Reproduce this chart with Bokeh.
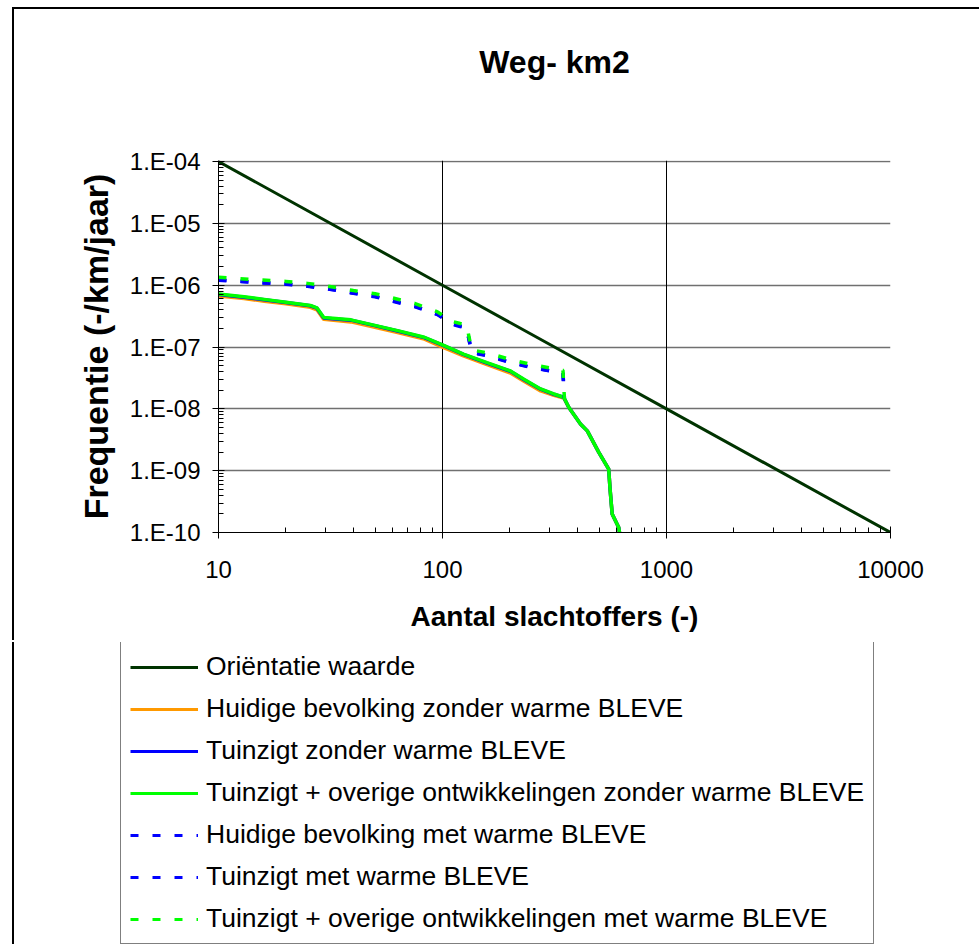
from bokeh.plotting import figure
from bokeh.layouts import column
from bokeh.models import (FixedTicker, CustomJSTickFormatter, Legend, LegendItem, Grid,
                          Title, Range1d)
from bokeh.embed import file_html
from bokeh.resources import INLINE

title_text = "Weg- km2"
x_label = "Aantal slachtoffers (-)"
y_label = "Frequentie (-/km/jaar)"

x_ticks = [10, 100, 1000, 10000]
y_ticks = [1e-10, 1e-9, 1e-8, 1e-7, 1e-6, 1e-5, 1e-4]

# Oriëntatie waarde (orientation value line)
n_orient = [10, 100, 1000, 10000]
f_orient = [1e-4, 1e-6, 1e-8, 1e-10]

# FN curves without warm BLEVE
n_zonder = [10, 13, 16, 20, 25.7, 27.5, 29.5, 39, 51, 63, 83, 100, 124, 158, 201,
            231, 274, 314, 348, 366, 413, 443, 498, 552, 560, 572, 612, 617]
f_huidig_zonder = [6.7e-7, 6.1e-7, 5.5e-7, 5.0e-7, 4.4e-7, 4.0e-7, 2.8e-7, 2.55e-7,
                   2.05e-7, 1.72e-7, 1.34e-7, 1.0e-7, 7.2e-8, 5.2e-8, 3.8e-8, 2.8e-8,
                   1.95e-8, 1.65e-8, 1.5e-8, 1.06e-8, 5.7e-9, 4.4e-9, 2.0e-9, 1.06e-9,
                   5.0e-10, 2.0e-10, 1.2e-10, 1.0e-10]
f_tuinzigt_zonder = [7.1e-7, 6.4e-7, 5.8e-7, 5.25e-7, 4.65e-7, 4.25e-7, 2.95e-7, 2.72e-7,
                     2.18e-7, 1.82e-7, 1.42e-7, 1.07e-7, 7.6e-8, 5.5e-8, 4.05e-8, 2.95e-8,
                     2.08e-8, 1.72e-8, 1.53e-8, 1.06e-8, 5.7e-9, 4.4e-9, 2.0e-9, 1.06e-9,
                     5.0e-10, 2.0e-10, 1.2e-10, 1.0e-10]
f_overig_zonder = [7.2e-7, 6.5e-7, 5.9e-7, 5.3e-7, 4.7e-7, 4.3e-7, 3.0e-7, 2.75e-7,
                   2.2e-7, 1.84e-7, 1.44e-7, 1.08e-7, 7.7e-8, 5.6e-8, 4.1e-8, 3.0e-8,
                   2.1e-8, 1.74e-8, 1.54e-8, 1.06e-8, 5.7e-9, 4.4e-9, 2.0e-9, 1.06e-9,
                   5.0e-10, 2.0e-10, 1.2e-10, 1.0e-10]

# FN curves with warm BLEVE
n_met = [10, 15, 20, 25, 30, 40, 50, 60, 75, 95, 110, 120, 128, 135, 160, 200, 250,
         320, 345, 350]
f_huidig_met = [1.2e-6, 1.1e-6, 1.04e-6, 9.6e-7, 8.8e-7, 7.4e-7, 6.5e-7, 5.5e-7, 4.5e-7,
                3.35e-7, 2.35e-7, 2.15e-7, 2.05e-7, 8.1e-8, 7.2e-8, 5.6e-8, 4.65e-8,
                3.95e-8, 3.75e-8, 1.5e-8]
f_tuinzigt_met = [1.22e-6, 1.11e-6, 1.05e-6, 9.7e-7, 8.9e-7, 7.5e-7, 6.6e-7, 5.6e-7, 4.6e-7,
                  3.4e-7, 2.4e-7, 2.2e-7, 2.1e-7, 8.2e-8, 7.3e-8, 5.7e-8, 4.7e-8,
                  4.0e-8, 3.8e-8, 1.5e-8]
f_overig_met = [1.34e-6, 1.22e-6, 1.15e-6, 1.07e-6, 9.8e-7, 8.2e-7, 7.3e-7, 6.2e-7, 5.1e-7,
                3.7e-7, 2.6e-7, 2.4e-7, 2.3e-7, 9.0e-8, 8.0e-8, 6.3e-8, 5.2e-8,
                4.4e-8, 4.2e-8, 1.5e-8]

series_labels = [
    "Oriëntatie waarde",
    "Huidige bevolking zonder warme BLEVE",
    "Tuinzigt zonder warme BLEVE",
    "Tuinzigt + overige ontwikkelingen zonder warme BLEVE",
    "Huidige bevolking met warme BLEVE",
    "Tuinzigt met warme BLEVE",
    "Tuinzigt + overige ontwikkelingen met warme BLEVE",
]
series_colors = ["#003300", "#FF9900", "#0000FF", "#00FF00", "#0000FF", "#0000FF", "#00FF00"]
series_dash = ["solid", "solid", "solid", "solid", "8 14", "8 14", "8 14"]
series_width = [3, 3.5, 3.5, 3.5, 3.5, 3.5, 3.5]

FONT = "Liberation Sans"
W = 967  # canvas width of both panels (right edge runs past the window)

# ---------------- main chart ----------------
# the y range ends a hair above 1e-4 so the top gridline is not cut by the frame edge
p = figure(width=W, height=633,
           x_axis_type="log", y_axis_type="log",
           x_range=(10, 10000), y_range=(1e-10, 1.04e-4),
           output_backend="svg", toolbar_location=None,
           min_border_left=204, min_border_right=14 + W - 890,
           min_border_top=151, min_border_bottom=110,
           background_fill_color="white", border_fill_color="white")
p.frame_align = False
p.styles = {"box-shadow": "-2px -2px 0px 0px #000000"}
p.outline_line_color = None

# spacer between the title and the plot area, then the title itself
p.add_layout(Title(text=" ", text_font_size="10px", standoff=63), "above")
p.add_layout(Title(text=title_text, align="center", text_font=FONT, text_font_size="32px",
                   text_font_style="bold", text_color="black", standoff=10), "above")

# x axis
xa = p.xaxis[0]
xa.ticker = FixedTicker(ticks=x_ticks,
                        minor_ticks=[m * 10 ** e for e in range(1, 4) for m in range(2, 10)])
xa.formatter = CustomJSTickFormatter(code="return Math.round(tick).toString();")
xa.axis_label = x_label
xa.axis_label_text_font = FONT
xa.axis_label_text_font_size = "28px"
xa.axis_label_text_font_style = "bold"
xa.axis_label_text_color = "black"
xa.axis_label_standoff = 20
xa.major_label_text_font = FONT
xa.major_label_text_font_size = "24px"
xa.major_label_text_color = "black"
xa.major_label_standoff = 22
xa.major_tick_in = 6
xa.major_tick_out = 6
xa.minor_tick_in = 5
xa.minor_tick_out = 0
xa.axis_line_color = "black"
xa.major_tick_line_color = "black"
xa.minor_tick_line_color = "black"

# y axis
ya = p.yaxis[0]
ya.ticker = FixedTicker(ticks=y_ticks,
                        minor_ticks=[m * 10.0 ** e for e in range(-10, -4) for m in range(2, 10)])
ya.formatter = CustomJSTickFormatter(code="""
const e = Math.round(Math.log10(tick));
return '1.E' + (e < 0 ? '-' : '+') + String(Math.abs(e)).padStart(2, '0');
""")
ya.axis_label = y_label
ya.axis_label_text_font = FONT
ya.axis_label_text_font_size = "34px"
ya.axis_label_text_font_style = "bold"
ya.axis_label_text_color = "black"
ya.axis_label_standoff = 12
ya.major_label_text_font = FONT
ya.major_label_text_font_size = "24px"
ya.major_label_text_color = "black"
ya.major_label_standoff = 12
ya.major_tick_in = 6
ya.major_tick_out = 6
ya.minor_tick_in = 5
ya.minor_tick_out = 0
ya.axis_line_color = "black"
ya.major_tick_line_color = "black"
ya.minor_tick_line_color = "black"

# grid: horizontal at every decade, vertical at 100 and 1000
p.xgrid.visible = False
p.ygrid.grid_line_color = "#707070"
p.ygrid.grid_line_width = 1.5
p.add_layout(Grid(dimension=0, ticker=FixedTicker(ticks=[100, 1000]),
                  grid_line_color="black", grid_line_width=1))

series = [
    (n_orient, f_orient),
    (n_zonder, f_huidig_zonder),
    (n_zonder, f_tuinzigt_zonder),
    (n_zonder, f_overig_zonder),
    (n_met, f_huidig_met),
    (n_met, f_tuinzigt_met),
    (n_met, f_overig_met),
]
for (xs, ys), color, dash, lw in zip(series, series_colors, series_dash, series_width):
    p.line(xs, ys, line_color=color, line_width=lw, line_dash=dash)

# ---------------- legend panel below the chart ----------------
leg = figure(width=W, height=302, output_backend="svg", toolbar_location=None,
             x_range=Range1d(0, 1), y_range=Range1d(0, 1),
             x_axis_location=None, y_axis_location=None,
             min_border=0, min_border_left=0, min_border_right=0,
             min_border_top=0, min_border_bottom=0,
             background_fill_color="white", border_fill_color="white")
leg.frame_align = False
leg.styles = {"box-shadow": "-2px 0px 0px 0px #000000"}
leg.outline_line_color = None
leg.grid.visible = False

nan = float("nan")
items = []
for label, color, dash in zip(series_labels, series_colors, series_dash):
    # legend sample only: a single undefined point draws nothing in the panel
    r = leg.line(x=[nan], y=[nan], line_color=color, line_width=3, line_dash=dash)
    items.append(LegendItem(label=label, renderers=[r]))

legend = Legend(items=items, location=(106, 0), orientation="vertical",
                label_text_font=FONT, label_text_font_size="26.5px", label_text_color="black",
                glyph_width=68, glyph_height=30, label_height=30, spacing=11,
                padding=9, label_standoff=8, margin=0,
                border_line_color="black", border_line_width=1.5,
                background_fill_color="white", background_fill_alpha=1.0)
leg.add_layout(legend)

page = column(p, leg, spacing=0, margin=(9, 0, 0, 14))

open("out.html", "w").write(file_html(page, INLINE))
